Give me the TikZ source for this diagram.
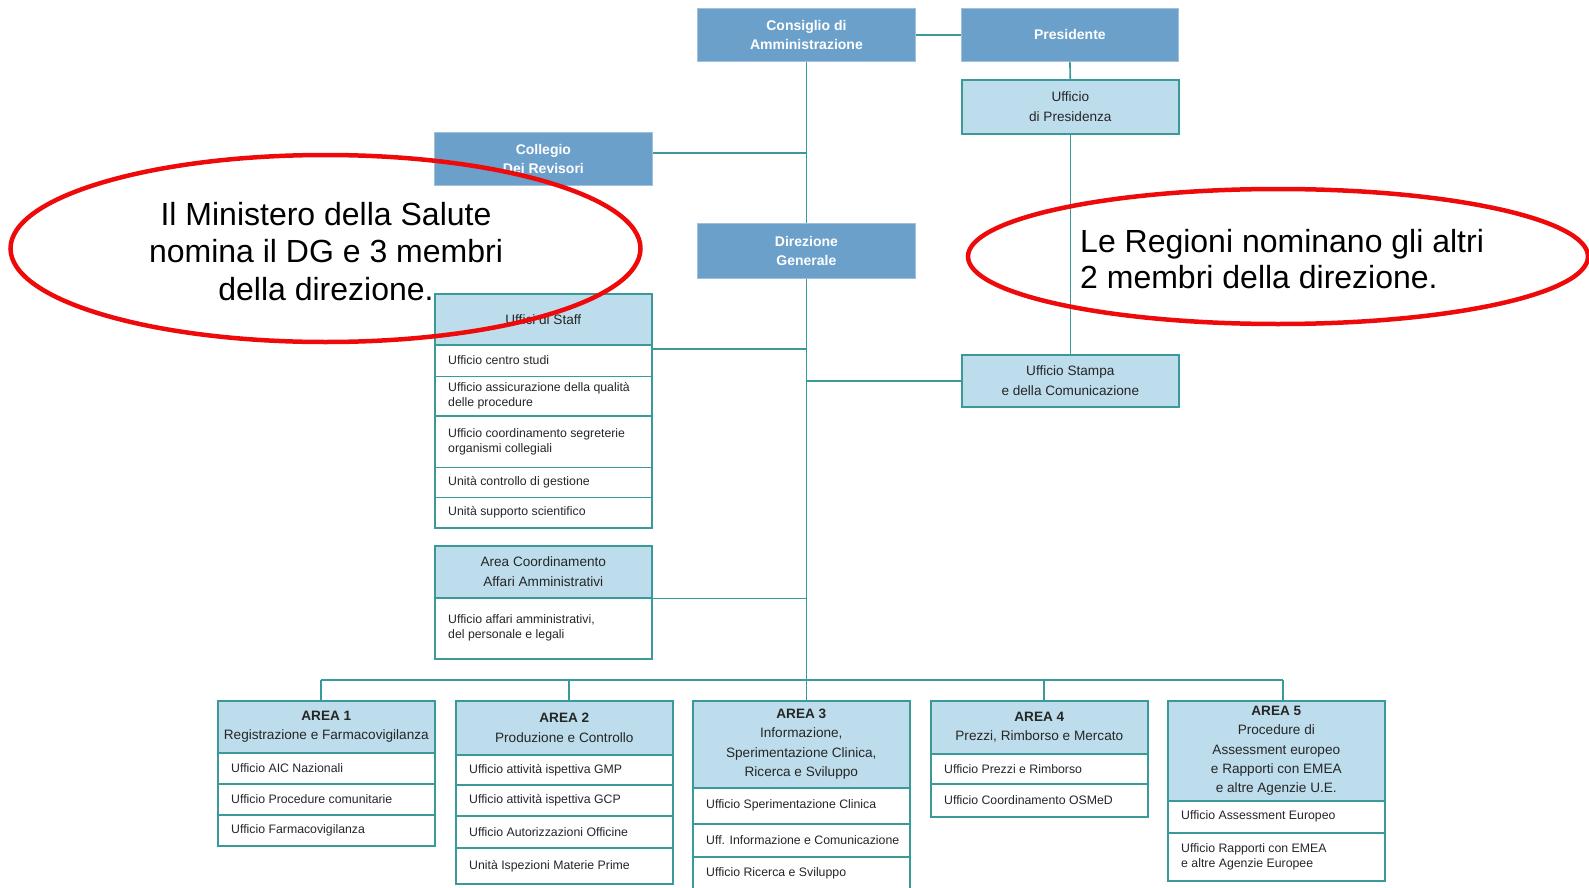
\documentclass[tikz,border=0pt]{standalone}
\usepackage{fontspec}
\setmainfont{Liberation Sans}
\usetikzlibrary{calc}
\definecolor{boardblue}{HTML}{6BA0CB}
\definecolor{boardedge}{HTML}{A3C0DA}
\definecolor{officeblue}{HTML}{BEDDEC}
\definecolor{tealline}{HTML}{3A9A9A}
\definecolor{remarkred}{HTML}{EE0A0A}
\definecolor{inktext}{HTML}{262626}

% one office row: name, left x, top y, height, text
\newcommand\officerow[5]{%
  \node[cellbox, minimum height=#4pt] (#1) at (#2,#3) {};
  \node[celltext] (#1-t) at ([xshift=14pt]#1.west) {#5};}

\begin{document}
\begin{tikzpicture}[x=1pt,y=-1pt,
  topbox/.style={draw=boardedge, line width=0.8pt, fill=boardblue, text=white,
    font=\fontsize{14}{19}\selectfont\bfseries, align=center,
    minimum width=218pt, inner sep=0pt, anchor=north west},
  lightbox/.style={draw=tealline, line width=1.6pt, fill=officeblue, text=inktext,
    font=\fontsize{13.6}{20}\selectfont, align=center,
    minimum width=217pt, inner sep=0pt, anchor=north west},
  areabox/.style={lightbox, font=\fontsize{13.6}{19.3}\selectfont},
  cellbox/.style={draw=tealline, line width=1.6pt, fill=white, inner sep=0pt,
    minimum width=217pt, anchor=north west},
  celltext/.style={anchor=west, inner sep=0pt, align=left, text=inktext,
    font=\fontsize{12.3}{15}\selectfont},
  link/.style={draw=tealline, line width=1.6pt},
  remark/.style={draw=remarkred, line width=4.5pt},
  remarktext/.style={font=\fontsize{32}{37.5}\selectfont, text=black, inner sep=0pt}
]
\useasboundingbox (0,0) rectangle (1589,888);

% ---- governing bodies
\node[topbox, minimum height=53pt] (cda) at (697,8) {Consiglio di\\Amministrazione};
\node[topbox, minimum width=217pt, minimum height=53pt] (pres) at (961,8) {Presidente};
\node[lightbox, minimum height=54pt] (uffpres) at (961,79) {Ufficio\\di Presidenza};
\node[topbox, minimum height=53pt] (coll) at (434,132) {Collegio\\Dei Revisori};
\node[topbox, minimum height=55pt] (dg) at (697,223) {Direzione\\Generale};
\node[lightbox, minimum height=52pt] (stampa) at (961,354) {Ufficio Stampa\\e della Comunicazione};

% ---- staff offices
\node[lightbox, minimum height=51pt] (staff) at (434,293) {Uffici di Staff};
\officerow{s1}{434}{344}{31.5}{Ufficio centro studi}
\officerow{s2}{434}{375.5}{39.5}{Ufficio assicurazione della qualità\\delle procedure}
\officerow{s3}{434}{415}{51.5}{Ufficio coordinamento segreterie\\organismi collegiali}
\officerow{s4}{434}{466.5}{30}{Unità controllo di gestione}
\officerow{s5}{434}{496.5}{30.5}{Unità supporto scientifico}

% ---- administrative area
\node[lightbox, minimum height=52pt] (acaa) at (434,545) {Area Coordinamento\\Affari Amministrativi};
\officerow{acaa1}{434}{597}{61}{Ufficio affari amministrativi,\\del personale e legali}

% ---- the five areas
\node[areabox, minimum height=52pt] (a1) at (217,700) {\textbf{AREA 1}\\Registrazione e Farmacovigilanza};
\officerow{a1r1}{217}{752}{31}{Ufficio AIC Nazionali}
\officerow{a1r2}{217}{783}{31}{Ufficio Procedure comunitarie}
\officerow{a1r3}{217}{814}{31}{Ufficio Farmacovigilanza}

\node[areabox, minimum height=54pt] (a2) at (455,700) {\textbf{AREA 2}\\Produzione e Controllo};
\officerow{a2r1}{455}{754}{30}{Ufficio attività ispettiva GMP}
\officerow{a2r2}{455}{784}{31}{Ufficio attività ispettiva GCP}
\officerow{a2r3}{455}{815}{32}{Ufficio Autorizzazioni Officine}
\officerow{a2r4}{455}{847}{36}{Unità Ispezioni Materie Prime}

\node[areabox, minimum height=87pt] (a3) at (692,700) {\textbf{AREA 3}\\Informazione,\\Sperimentazione Clinica,\\Ricerca e Sviluppo};
\officerow{a3r1}{692}{787}{36}{Ufficio Sperimentazione Clinica}
\officerow{a3r2}{692}{823}{33}{Uff. Informazione e Comunicazione}
\officerow{a3r3}{692}{856}{34}{Ufficio Ricerca e Sviluppo}

\node[areabox, minimum height=53pt] (a4) at (930,700) {\textbf{AREA 4}\\Prezzi, Rimborso e Mercato};
\officerow{a4r1}{930}{753}{30}{Ufficio Prezzi e Rimborso}
\officerow{a4r2}{930}{783}{33}{Ufficio Coordinamento OSMeD}

\node[areabox, minimum height=100pt] (a5) at (1167,700) {\textbf{AREA 5}\\Procedure di\\Assessment europeo\\e Rapporti con EMEA\\e altre Agenzie U.E.};
\officerow{a5r1}{1167}{800}{32}{Ufficio Assessment Europeo}
\officerow{a5r2}{1167}{832}{48}{Ufficio Rapporti con EMEA\\e altre Agenzie Europee}

% ---- connectors
\draw[link] (cda.east) -- (pres.west);
\draw[link] (pres.south) -- (uffpres.north);
\draw[link] (uffpres.south) -- (stampa.north);
\draw[link] (cda.south) -- (dg.north);
\draw[link] (coll.east |- 0,153) -- (cda.south |- 0,153);
\draw[link] (dg.south) -- (dg.south |- a3.north);
\draw[link] (staff.east |- 0,349) -- (dg.south |- 0,349);
\draw[link] (acaa.south east) -- (dg.south |- acaa.south east);
\draw[link] (dg.south |- stampa.west) -- (stampa.west);

\coordinate (busL) at (321,680);
\coordinate (bus2) at (569,680);
\coordinate (bus4) at (1044,680);
\coordinate (busR) at (1283,680);
\draw[link] (busL) -- (busR);
\draw[link] (busL) -- (busL |- a1.north);
\draw[link] (bus2) -- (bus2 |- a2.north);
\draw[link] (bus4) -- (bus4 |- a4.north);
\draw[link] (busR) -- (busR |- a5.north);

% ---- red remarks (base anchor sits on the last line)
\draw[remark] (325.5,248.5) ellipse [x radius=315pt, y radius=93.5pt];
\draw[remark] (1278,256.5) ellipse [x radius=310pt, y radius=67.5pt];
\node[remarktext, align=center, anchor=base] (ministero) at (326,300)
  {Il Ministero della Salute\\nomina il DG e 3 membri\\della direzione.};
\node[remarktext, align=left, anchor=base west, font=\fontsize{32}{36}\selectfont] (regioni) at (1080,288)
  {Le Regioni nominano gli altri\\2 membri della direzione.};
\end{tikzpicture}
\end{document}
